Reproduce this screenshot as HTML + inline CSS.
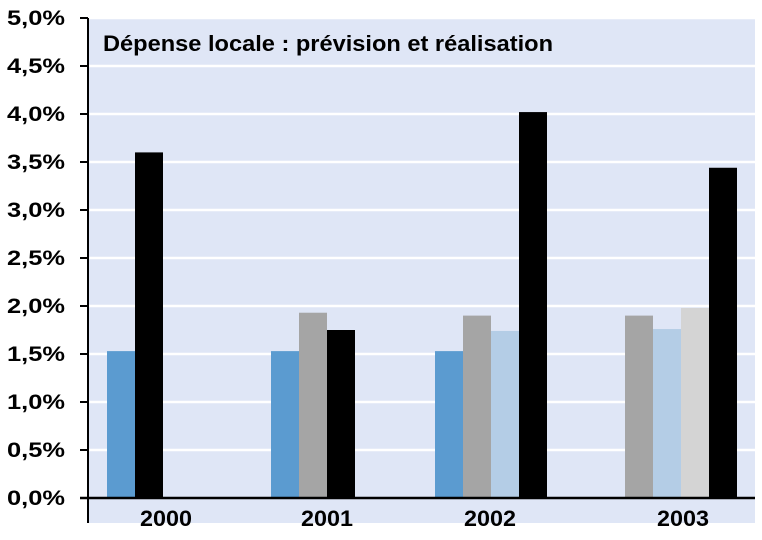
<!DOCTYPE html>
<html><head><meta charset="utf-8"><style>
body{margin:0;background:#fff;}
svg text{font-family:"Liberation Sans",Arial,sans-serif;font-weight:bold;fill:#000;}
</style></head><body>
<svg id="chart" width="762" height="535" viewBox="0 0 762 535" xmlns="http://www.w3.org/2000/svg">
<rect x="88" y="19" width="667" height="504" fill="#dfe6f6"/>
<g id="grid"></g>
<g id="bars"></g>
<g id="axes"></g>
<text x="103" y="51" font-size="22" textLength="450" lengthAdjust="spacingAndGlyphs">Dépense locale : prévision et réalisation</text>
</svg>
<script>
const years = ["2000","2001","2002","2003"];
const seriesBlue = [1.53, 1.53, 1.53, null];
const seriesGray = [null, 1.93, 1.90, 1.90];
const seriesLightBlue = [null, null, 1.74, 1.76];
const seriesLightGray = [null, null, null, 1.98];
const seriesBlack = [3.60, 1.75, 4.02, 3.44];
const yTicks = [0,0.5,1,1.5,2,2.5,3,3.5,4,4.5,5];
const yTickLabels = ["0,0%","0,5%","1,0%","1,5%","2,0%","2,5%","3,0%","3,5%","4,0%","4,5%","5,0%"];

const NS="http://www.w3.org/2000/svg";
const y0=498, pxPer=96, barW=28;
function yScale(v){return y0 - v*pxPer;}
function groupStart(i){return 107 + 164*i;}
function mk(tag,attrs,parent){const e=document.createElementNS(NS,tag);for(const k in attrs)e.setAttribute(k,attrs[k]);parent.appendChild(e);return e;}
const grid=document.getElementById('grid'), bars=document.getElementById('bars'), axes=document.getElementById('axes');

yTicks.forEach((t,i)=>{
  const y=yScale(t);
  if(t>0){const g=mk('line',{x1:88,x2:755,y1:y,y2:y,stroke:'#fff','stroke-width':2.5},grid);
    
    }
  const tk=mk('line',{x1:80,x2:88,y1:y,y2:y,stroke:'#000','stroke-width':2},axes);
  
  
  const tx=mk('text',{x:65,y:y+7,'text-anchor':'end','font-size':21,textLength:58,lengthAdjust:'spacingAndGlyphs'},axes);
  tx.textContent=yTickLabels[i];
  
  
});

const series=[[seriesBlue,'#5b9bd0'],[seriesGray,'#a5a5a5'],[seriesLightBlue,'#b4cde6'],[seriesLightGray,'#d4d4d4'],[seriesBlack,'#000']];
years.forEach((yr,i)=>{
  let x=groupStart(i); let started=false;
  series.forEach(([arr,col],s)=>{
    const v=arr[i];
    if(v==null){ if(!started && s===0) x+=barW-2; return; }
    started=true;
    const r=mk('rect',{x:x,y:yScale(v),width:barW,height:y0-yScale(v),fill:col},bars);
    
    
    x+=barW;
  });
  const centers=[166,327,490,683];
  const t=mk('text',{x:centers[i],y:526,'text-anchor':'middle','font-size':22,textLength:52,lengthAdjust:'spacingAndGlyphs'},axes);
  t.textContent=yr;
  
  
});
const ya=mk('line',{x1:88,x2:88,y1:18,y2:523,stroke:'#000','stroke-width':2},axes);


const xa=mk('line',{x1:80,x2:755,y1:y0,y2:y0,stroke:'#000','stroke-width':2.5},axes);


</script>
</body></html>
